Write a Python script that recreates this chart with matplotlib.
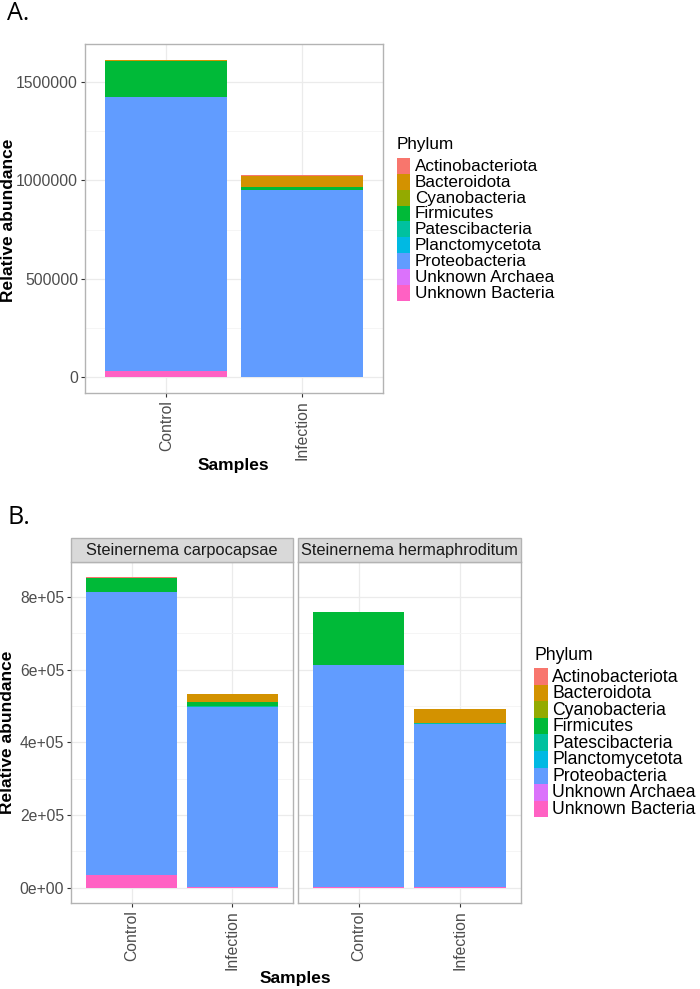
import numpy as np
import matplotlib
matplotlib.use("Agg")
import matplotlib.pyplot as plt
from matplotlib.patches import Rectangle
from matplotlib.ticker import MultipleLocator, FuncFormatter

plt.rcParams['font.family'] = ['Liberation Sans', 'DejaVu Sans']

phyla = ["Actinobacteriota", "Bacteroidota", "Cyanobacteria", "Firmicutes",
         "Patescibacteria", "Planctomycetota", "Proteobacteria",
         "Unknown Archaea", "Unknown Bacteria"]
colors = ["#F8766D", "#D39200", "#93AA00", "#00BA38", "#00C19F",
          "#00B9E3", "#619CFF", "#DB72FB", "#FF61C3"]

samples = ["Control", "Infection"]
species = ["Steinernema carpocapsae", "Steinernema hermaphroditum"]

# panel A: all samples pooled (Control, Infection)
a_actino   = [3000, 3000]
a_bactero  = [1000, 58000]
a_cyano    = [0, 500]
a_firmi    = [182000, 14000]
a_patesci  = [0, 1000]
a_plancto  = [0, 500]
a_proteo   = [1394000, 949000]
a_unk_arch = [500, 500]
a_unk_bact = [32000, 1500]

# panel B: per species, (Control, Infection)
b_actino   = [[1500, 1500], [1500, 1500]]
b_bactero  = [[500, 22000], [500, 36000]]
b_cyano    = [[0, 300], [0, 200]]
b_firmi    = [[37500, 11000], [145000, 2000]]
b_patesci  = [[0, 300], [0, 800]]
b_plancto  = [[0, 200], [0, 300]]
b_proteo   = [[780000, 497500], [612000, 450500]]
b_unk_arch = [[300, 300], [200, 200]]
b_unk_bact = [[35000, 800], [800, 800]]

a_vals = [a_actino, a_bactero, a_cyano, a_firmi, a_patesci, a_plancto,
          a_proteo, a_unk_arch, a_unk_bact]
b_vals = [b_actino, b_bactero, b_cyano, b_firmi, b_patesci, b_plancto,
          b_proteo, b_unk_arch, b_unk_bact]

W, H = 700, 989
fig = plt.figure(figsize=(W / 100, H / 100), dpi=100)

tick_col = "#4D4D4D"
border_col = "#B3B3B3"


def fx(px):
    return px / W


def fy(py):
    return 1 - py / H


def stacked(ax, vals):
    # ggplot stacks the last level at the bottom
    x = np.arange(len(samples))
    bottom = np.zeros(len(samples))
    for i in range(len(phyla) - 1, -1, -1):
        v = np.array(vals[i], dtype=float)
        ax.bar(x, v, 0.9, bottom=bottom, color=colors[i], linewidth=0)
        bottom += v
    return bottom.max()


def style(ax, major, ymax, show_y=True):
    ax.set_xlim(-0.6, 1.6)
    ax.set_ylim(-0.05 * ymax, 1.05 * ymax)
    ax.set_xticks(range(len(samples)))
    ax.set_xticklabels(samples, rotation=90, color=tick_col, fontsize=11.3)
    ax.yaxis.set_major_locator(MultipleLocator(major))
    ax.yaxis.set_minor_locator(MultipleLocator(major / 2))
    ax.grid(which="major", color="#EBEBEB", linewidth=0.9)
    ax.grid(which="minor", axis="y", color="#F4F4F4", linewidth=0.6)
    ax.tick_params(which="minor", length=0)
    ax.tick_params(which="major", length=3, color="#333333", labelsize=11.3,
                   labelcolor=tick_col, pad=2)
    ax.set_axisbelow(True)
    for s in ax.spines.values():
        s.set_color(border_col)
        s.set_linewidth(1.0)
    if not show_y:
        ax.tick_params(axis="y", labelleft=False, length=0)


def legend(x_key, y_top, row_h, title_y, fs):
    fig.text(fx(x_key), fy(title_y), "Phylum", fontsize=fs, va="center",
             ha="left")
    for i, name in enumerate(phyla):
        y0 = y_top + i * row_h
        fig.add_artist(Rectangle((fx(x_key), fy(y0 + row_h)), fx(13.5),
                                 row_h / H, transform=fig.transFigure,
                                 color=colors[i], linewidth=0))
        fig.text(fx(x_key + 18), fy(y0 + row_h / 2 + 0.5), name, fontsize=fs,
                 va="center", ha="left")


# ---- panel A
axA = fig.add_axes([fx(85), fy(393.3), fx(383.3 - 85), (393.3 - 44) / H])
topA = stacked(axA, a_vals)
style(axA, 500000, topA)
axA.yaxis.set_major_formatter(FuncFormatter(lambda v, p: "%d" % v))
fig.text(fx(9), fy(220), "Relative abundance", fontsize=12.5, fontweight="bold",
         rotation=90, ha="center", va="center")
fig.text(fx(233), fy(466), "Samples", fontsize=12.5, fontweight="bold",
         ha="center", va="center")
fig.text(fx(7), fy(13), "A.", fontsize=18, family=["Open Sans", "DejaVu Sans"],
         va="center", ha="left")
legend(397, 158, 15.85, 145, 12.3)

# ---- panel B
lefts = [71, 298]
rights = [293, 520.7]
ymaxB = max(np.sum([np.array(v)[k] for v in b_vals], axis=0).max() for k in range(2))
axesB = []
for k in range(2):
    ax = fig.add_axes([fx(lefts[k]), fy(903.3), fx(rights[k] - lefts[k]),
                       (903.3 - 561.7) / H])
    stacked(ax, [v[k] for v in b_vals])
    style(ax, 200000, ymaxB, show_y=(k == 0))
    # facet strip
    fig.add_artist(Rectangle((fx(lefts[k]), fy(561.7)), fx(rights[k] - lefts[k]),
                             (561.7 - 538.3) / H, transform=fig.transFigure,
                             facecolor="#D9D9D9", edgecolor=border_col,
                             linewidth=1.0))
    fig.text(fx((lefts[k] + rights[k]) / 2), fy(550), species[k], fontsize=11.8,
             ha="center", va="center", color="#1A1A1A")
    axesB.append(ax)

axesB[0].yaxis.set_major_formatter(FuncFormatter(lambda v, p: "%.0e" % v))
fig.text(fx(8), fy(732), "Relative abundance", fontsize=12.5, fontweight="bold",
         rotation=90, ha="center", va="center")
fig.text(fx(295), fy(979), "Samples", fontsize=12.5, fontweight="bold",
         ha="center", va="center")
fig.text(fx(7), fy(518), "B.", fontsize=18, family=["Open Sans", "DejaVu Sans"],
         va="center", ha="left")
legend(534.3, 668.3, 16.55, 655, 12.7)

fig.savefig("out.png", dpi=100)
